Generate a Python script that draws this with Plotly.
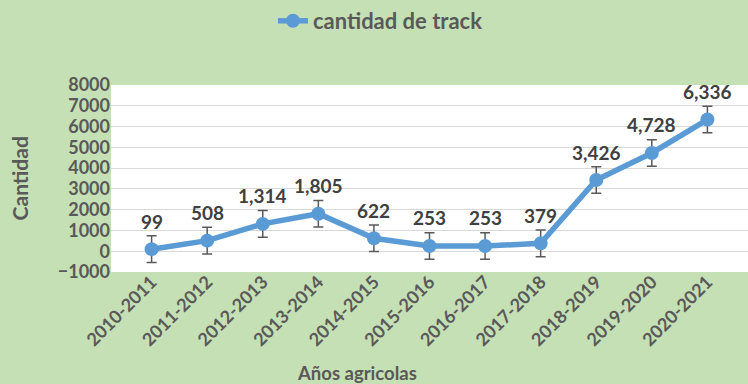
import plotly.graph_objects as go

# Agricultural seasons and track counts
seasons = ["2010-2011", "2011-2012", "2012-2013", "2013-2014", "2014-2015",
           "2015-2016", "2016-2017", "2017-2018", "2018-2019", "2019-2020",
           "2020-2021"]
track_counts = [99, 508, 1314, 1805, 622, 253, 253, 379, 3426, 4728, 6336]
error_amount = 640
y_tick_values = [-1000, 0, 1000, 2000, 3000, 4000, 5000, 6000, 7000, 8000]

FONT = "Lato"
TEXT_GREY = "#595959"
LINE_BLUE = "#5B9BD5"

fig = go.Figure()
fig.add_trace(go.Scatter(
    x=seasons,
    y=track_counts,
    mode="lines+markers",
    name="cantidad de track",
    line=dict(color=LINE_BLUE, width=5.5),
    marker=dict(color=LINE_BLUE, size=14),
    error_y=dict(type="constant", value=error_amount, color=TEXT_GREY,
                 thickness=1.5, width=5),
))

# Value labels above each point
annotations = []
for s, v in zip(seasons, track_counts):
    annotations.append(dict(
        x=s, y=v, xref="x", yref="y", text=f"{v:,}",
        showarrow=False, yshift=28,
        font=dict(family=FONT, size=19, color="#404040", weight="bold"),
    ))

# Axis titles
annotations.append(dict(
    x=0.386, y=-0.54, xref="paper", yref="paper", text="Años agricolas",
    showarrow=False, xanchor="center", yanchor="middle",
    font=dict(family=FONT, size=18.5, color=TEXT_GREY, weight="bold"),
))
annotations.append(dict(
    x=-0.143, y=0.5, xref="paper", yref="paper", text="Cantidad",
    showarrow=False, xanchor="center", yanchor="middle", textangle=-90,
    font=dict(family=FONT, size=21, color=TEXT_GREY, weight="bold"),
))

fig.update_layout(
    width=748, height=384,
    margin=dict(l=111, r=0, t=85, b=112),
    paper_bgcolor="#C5E0B4",
    plot_bgcolor="white",
    showlegend=True,
    legend=dict(orientation="h", x=0.423, y=1.345, xanchor="center",
                yanchor="middle", bgcolor="rgba(0,0,0,0)",
                font=dict(family=FONT, size=22, color=TEXT_GREY,
                          weight="bold")),
    annotations=annotations,
    xaxis=dict(
        tickangle=-45, showgrid=False, zeroline=False, ticks="",
        ticklabelstandoff=-5,
        tickfont=dict(family=FONT, size=18, color=TEXT_GREY, weight="bold"),
    ),
    yaxis=dict(
        range=[-1000, 8000], tickvals=y_tick_values,
        showgrid=True, gridcolor="#D9D9D9", gridwidth=1.3, zeroline=False,
        tickfont=dict(family=FONT, size=18, color=TEXT_GREY, weight="bold"),
    ),
)

fig.write_html("out.html")
